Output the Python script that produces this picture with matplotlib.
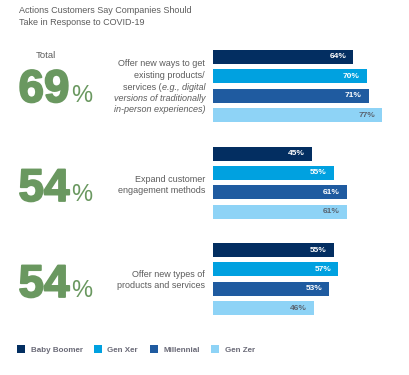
import numpy as np
import matplotlib
matplotlib.use("Agg")
import matplotlib.pyplot as plt
import matplotlib.patheffects as pe
from matplotlib.patches import Patch

# data
title = "Actions Customers Say Companies Should\nTake in Response to COVID-19"
generations = ["Baby Boomer", "Gen Xer", "Millennial", "Gen Zer"]
colors = ["#032e61", "#00a1e0", "#1f5ba0", "#8ed3f6"]
label_colors = ["white", "white", "white", "#5a6470"]
totals = [69, 54, 54]
values = [
    [64, 70, 71, 77],
    [45, 55, 61, 61],
    [55, 57, 53, 46],
]

GREEN = "#6a9860"
GRAY = "#5c5c5c"
W, H = 409, 375

fig = plt.figure(figsize=(W / 100, H / 100), dpi=100)
fig.patch.set_facecolor("white")
plt.rcParams["font.family"] = ["Liberation Sans", "DejaVu Sans"]


def fx(px):
    return px / W


def fy(py):
    return 1 - py / H


# bar axes, y measured like pixels from the top
ax = fig.add_axes([fx(213), fy(325), fx(186.6), 285 / H])
ax.set_xlim(0, 85)
ax.set_ylim(325, 40)
ax.axis("off")

group_top = [57, 153.5, 250]
step = 19.4
for g, vals in enumerate(values):
    ys = group_top[g] + np.arange(len(vals)) * step
    for i, v in enumerate(vals):
        ax.barh(ys[i], v, height=14, color=colors[i])
        ax.text(v - 3.2, ys[i], f"{v}%", ha="right", va="center",
                fontsize=6, fontweight="bold", color=label_colors[i])

# title
fig.text(fx(19), fy(6), title, ha="left", va="top", fontsize=6.5,
         color=GRAY, linespacing=1.4)

# big totals
fig.text(fx(46), fy(55), "Total", ha="center", va="center", fontsize=6.8, color=GRAY)
baselines = [102, 201, 297]
renderer = fig.canvas.get_renderer()
for g, t in enumerate(totals):
    num = fig.text(fx(18.5), fy(baselines[g]), str(t), ha="left", va="baseline",
                   fontsize=33, fontweight="bold", color=GREEN,
                   path_effects=[pe.withStroke(linewidth=1.3, foreground=GREEN)])
    bb = num.get_window_extent(renderer)
    fig.text(bb.x1 / W + fx(1.5), fy(baselines[g]), "%", ha="left", va="baseline",
             fontsize=17, color=GREEN)

# category descriptions, right aligned
xr = 205


def rtext(y, parts):
    # parts: list of (string, italic) drawn right to left
    x = xr
    for s, it in reversed(parts):
        t = fig.text(fx(x), fy(y), s, ha="right", va="center", fontsize=6.5,
                     color=GRAY, style="italic" if it else "normal")
        bb = t.get_window_extent(renderer)
        x -= bb.width


rtext(64, [("Offer new ways to get", False)])
rtext(75.5, [("existing products/", False)])
rtext(87, [("services (", False), ("e.g., digital", True)])
rtext(98.5, [("versions of traditionally", True)])
rtext(110, [("in-person experiences)", True)])

rtext(179, [("Expand customer", False)])
rtext(190.5, [("engagement methods", False)])

rtext(274.5, [("Offer new types of", False)])
rtext(286, [("products and services", False)])

# legend
handles = [Patch(facecolor=c, edgecolor="none") for c in colors]
leg = fig.legend(handles, generations, loc="center left",
                 bbox_to_anchor=(fx(14), fy(349.5)), ncol=4, frameon=False,
                 fontsize=5.8, handlelength=1.0, handleheight=1.0,
                 handletextpad=0.65, columnspacing=1.45, borderaxespad=0)
for txt in leg.get_texts():
    txt.set_color("#6b6b78")
    txt.set_fontweight("bold")

fig.savefig("out.png", dpi=100)
